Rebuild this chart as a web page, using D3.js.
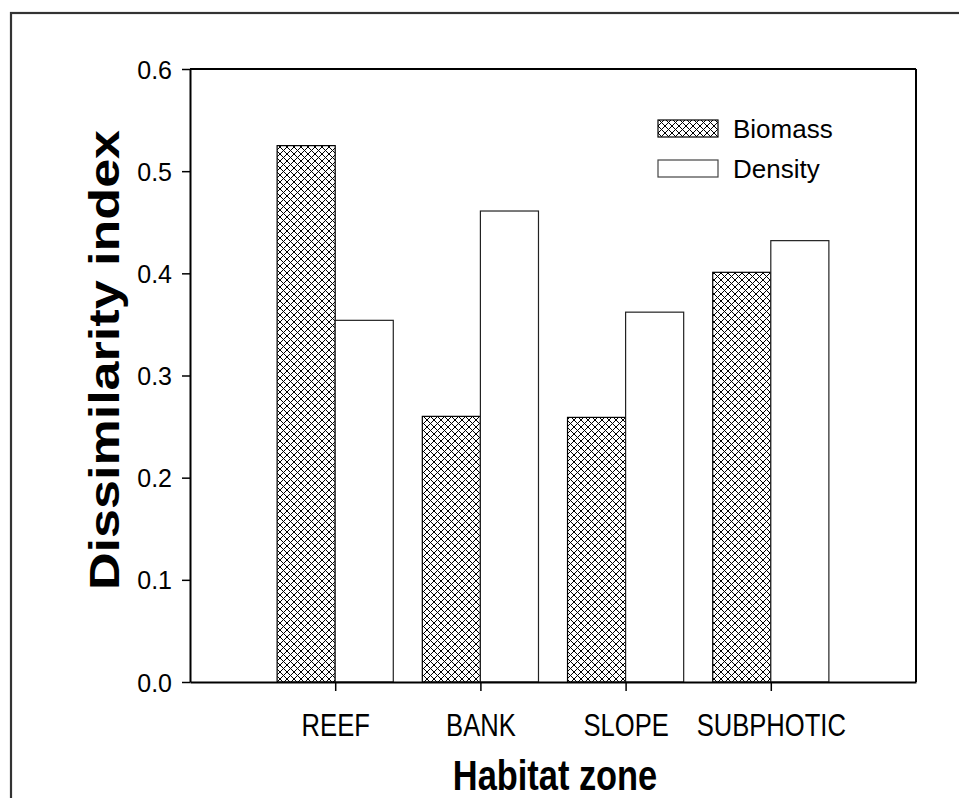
<!DOCTYPE html>
<html>
<head>
<meta charset="utf-8">
<script src="https://cdn.jsdelivr.net/npm/d3@7"></script>
<style>
  html, body { margin: 0; padding: 0; background: #fff; }
  svg { display: block; font-family: "Liberation Sans", Arial, sans-serif; }
</style>
</head>
<body>
<svg id="chart" width="959" height="798"></svg>
<script>
const categories = ["REEF", "BANK", "SLOPE", "SUBPHOTIC"];
const biomass = [0.525, 0.260, 0.259, 0.401];
const density = [0.354, 0.461, 0.362, 0.432];
const yTicks = [0.0, 0.1, 0.2, 0.3, 0.4, 0.5, 0.6];
const seriesNames = ["Biomass", "Density"];

(function () {
const svg = d3.select("#chart");
const pLeft = 190, pRight = 916, pTop = 69, pBottom = 682;

const x = d3.scaleLinear().domain([0, categories.length + 1]).range([pLeft, pRight]);
const y = d3.scaleLinear().domain([0, 0.6]).range([pBottom, pTop]);
const bw = x(0.4) - x(0);

// hatch pattern
const defs = svg.append("defs");
const pat = defs.append("pattern").attr("id", "hatch")
  .attr("patternUnits", "userSpaceOnUse").attr("width", 7).attr("height", 7);
pat.append("rect").attr("width", 7).attr("height", 7).attr("fill", "#fff");
pat.append("path").attr("d", "M-1,-1 L8,8 M8,-1 L-1,8")
  .attr("stroke", "#000").attr("stroke-width", 1).attr("fill", "none");

// outer frame
svg.append("rect").attr("x", 11).attr("y", 13).attr("width", 980).attr("height", 820)
  .attr("fill", "none").attr("stroke", "#333").attr("stroke-width", 2.2);

// bars
const g = svg.append("g");
g.selectAll("rect.bio").data(biomass).join("rect").attr("class", "bio")
  .attr("x", (d, i) => x(i + 1) - bw).attr("y", d => y(d))
  .attr("width", bw).attr("height", d => y(0) - y(d))
  .attr("fill", "url(#hatch)").attr("stroke", "#000").attr("stroke-width", 1.2);
g.selectAll("rect.den").data(density).join("rect").attr("class", "den")
  .attr("x", (d, i) => x(i + 1)).attr("y", d => y(d))
  .attr("width", bw).attr("height", d => y(0) - y(d))
  .attr("fill", "#fff").attr("stroke", "#222").attr("stroke-width", 1.2);

// frame top/right
svg.append("line").attr("x1", pLeft).attr("x2", pRight).attr("y1", pTop).attr("y2", pTop)
  .attr("stroke", "#000").attr("stroke-width", 2);
svg.append("line").attr("x1", pRight).attr("x2", pRight).attr("y1", pTop).attr("y2", pBottom)
  .attr("stroke", "#000").attr("stroke-width", 2);

// y axis
const yAxis = svg.append("g").attr("transform", `translate(${pLeft},0)`)
  .call(d3.axisLeft(y).tickValues(yTicks).tickFormat(d3.format(".1f")).tickSize(8).tickSizeOuter(0));
yAxis.select(".domain").attr("stroke", "#000").attr("stroke-width", 2);
yAxis.selectAll(".tick line").attr("stroke", "#000").attr("stroke-width", 1.5);
yAxis.selectAll(".tick text").attr("x", -18).attr("dy", "0.36em")
  .attr("font-size", 25).attr("fill", "#000").attr("font-family", "Liberation Sans, Arial, sans-serif");

// x axis
const xAxis = svg.append("g").attr("transform", `translate(0,${pBottom})`)
  .call(d3.axisBottom(x).tickValues(d3.range(1, categories.length + 1))
    .tickFormat(d => categories[d - 1]).tickSize(9).tickSizeOuter(0));
xAxis.select(".domain").attr("stroke", "#000").attr("stroke-width", 2);
xAxis.selectAll(".tick line").attr("stroke", "#000").attr("stroke-width", 1.5);
xAxis.selectAll(".tick text").attr("y", 0).attr("dy", 0)
  .attr("transform", "translate(0,54) scale(0.8,1)")
  .attr("font-size", 32).attr("fill", "#000").attr("font-family", "Liberation Sans, Arial, sans-serif");

// axis titles
svg.append("text").attr("transform", "translate(119,360) rotate(-90) scale(1.24,1)")
  .attr("text-anchor", "middle").attr("font-weight", "bold").attr("font-size", 42)
  .text("Dissimilarity index");
svg.append("text").attr("transform", "translate(555,790) scale(0.8,1)")
  .attr("text-anchor", "middle").attr("font-weight", "bold").attr("font-size", 43)
  .text("Habitat zone");

// legend
const legend = svg.append("g");
const fills = ["url(#hatch)", "#fff"];
seriesNames.forEach((name, i) => {
  legend.append("rect").attr("x", 658).attr("y", 120 + i * 40).attr("width", 60).attr("height", 17)
    .attr("fill", fills[i]).attr("stroke", i === 0 ? "#000" : "#444").attr("stroke-width", 1.2);
  legend.append("text").attr("x", 733).attr("y", 138 + i * 40).attr("font-size", 26)
    .attr("fill", "#000").text(name);
});
})();
</script>
</body>
</html>
